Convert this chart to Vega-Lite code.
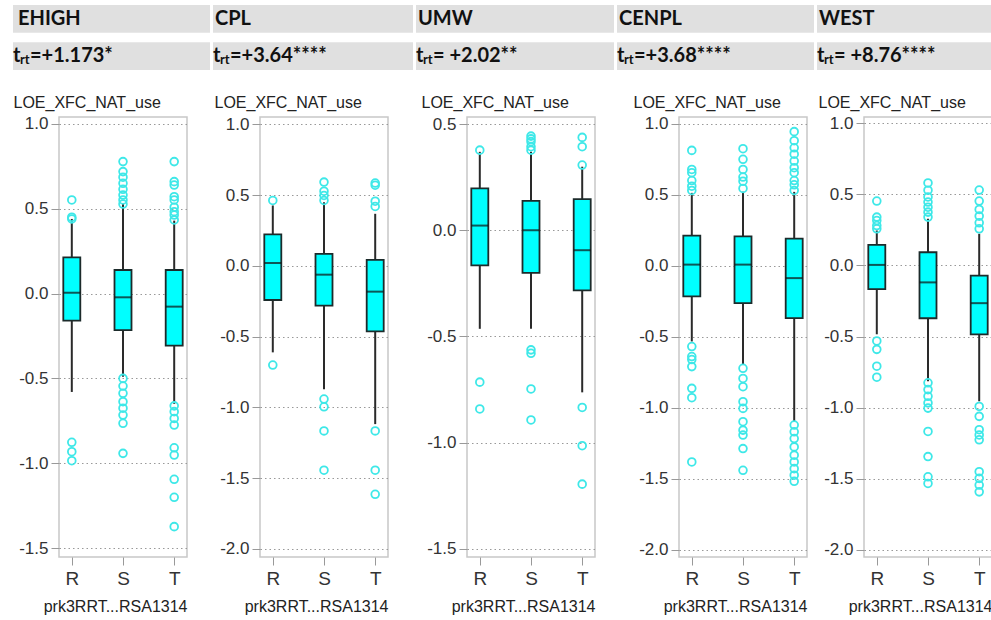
{
"$schema": "https://vega.github.io/schema/vega-lite/v6.json",
"padding": {"left": 12, "top": 5, "right": 0, "bottom": 0},
"autosize": {"type": "pad"},
"background": "white",
"datasets": {
"headers": [
{"panel":"EHIGH","row":"name","label":"EHIGH","t":"","sub":"","rest":""},
{"panel":"EHIGH","row":"t","label":"","t":"t","sub":"rt","rest":"=+1.173*"},
{"panel":"CPL","row":"name","label":"CPL","t":"","sub":"","rest":""},
{"panel":"CPL","row":"t","label":"","t":"t","sub":"rt","rest":"=+3.64****"},
{"panel":"UMW","row":"name","label":"UMW","t":"","sub":"","rest":""},
{"panel":"UMW","row":"t","label":"","t":"t","sub":"rt","rest":"= +2.02**"},
{"panel":"CENPL","row":"name","label":"CENPL","t":"","sub":"","rest":""},
{"panel":"CENPL","row":"t","label":"","t":"t","sub":"rt","rest":"=+3.68****"},
{"panel":"WEST","row":"name","label":"WEST","t":"","sub":"","rest":""},
{"panel":"WEST","row":"t","label":"","t":"t","sub":"rt","rest":"= +8.76****"}
],
"boxes": [
{"region":"EHIGH","grp":"R","lower":-0.58,"q1":-0.16,"median":0.005,"q3":0.214,"upper":0.44},
{"region":"EHIGH","grp":"S","lower":-0.49,"q1":-0.215,"median":-0.022,"q3":0.139,"upper":0.53},
{"region":"EHIGH","grp":"T","lower":-0.65,"q1":-0.307,"median":-0.077,"q3":0.139,"upper":0.43},
{"region":"CPL","grp":"R","lower":-0.611,"q1":-0.241,"median":0.021,"q3":0.222,"upper":0.427},
{"region":"CPL","grp":"S","lower":-0.871,"q1":-0.281,"median":-0.062,"q3":0.085,"upper":0.45},
{"region":"CPL","grp":"T","lower":-1.118,"q1":-0.463,"median":-0.182,"q3":0.042,"upper":0.368},
{"region":"UMW","grp":"R","lower":-0.464,"q1":-0.165,"median":0.022,"q3":0.197,"upper":0.369},
{"region":"UMW","grp":"S","lower":-0.464,"q1":-0.201,"median":0.0,"q3":0.138,"upper":0.369},
{"region":"UMW","grp":"T","lower":-0.763,"q1":-0.283,"median":-0.094,"q3":0.146,"upper":0.299},
{"region":"CENPL","grp":"R","lower":-0.533,"q1":-0.216,"median":0.008,"q3":0.212,"upper":0.513},
{"region":"CENPL","grp":"S","lower":-0.698,"q1":-0.263,"median":0.008,"q3":0.207,"upper":0.52},
{"region":"CENPL","grp":"T","lower":-1.098,"q1":-0.369,"median":-0.087,"q3":0.191,"upper":0.52},
{"region":"WEST","grp":"R","lower":-0.484,"q1":-0.166,"median":0.004,"q3":0.145,"upper":0.246},
{"region":"WEST","grp":"S","lower":-0.814,"q1":-0.371,"median":-0.119,"q3":0.093,"upper":0.328},
{"region":"WEST","grp":"T","lower":-0.955,"q1":-0.484,"median":-0.265,"q3":-0.072,"upper":0.223}
],
"outliers": [
{"region":"EHIGH","grp":"R","value":0.552},{"region":"EHIGH","grp":"R","value":0.45},{"region":"EHIGH","grp":"R","value":0.44},{"region":"EHIGH","grp":"R","value":-0.877},{"region":"EHIGH","grp":"R","value":-0.932},{"region":"EHIGH","grp":"R","value":-0.985},
{"region":"EHIGH","grp":"S","value":0.778},{"region":"EHIGH","grp":"S","value":0.719},{"region":"EHIGH","grp":"S","value":0.686},{"region":"EHIGH","grp":"S","value":0.65},{"region":"EHIGH","grp":"S","value":0.615},{"region":"EHIGH","grp":"S","value":0.581},{"region":"EHIGH","grp":"S","value":0.552},{"region":"EHIGH","grp":"S","value":0.528},{"region":"EHIGH","grp":"S","value":-0.5},{"region":"EHIGH","grp":"S","value":-0.545},{"region":"EHIGH","grp":"S","value":-0.588},{"region":"EHIGH","grp":"S","value":-0.637},{"region":"EHIGH","grp":"S","value":-0.676},{"region":"EHIGH","grp":"S","value":-0.716},{"region":"EHIGH","grp":"S","value":-0.765},{"region":"EHIGH","grp":"S","value":-0.942},
{"region":"EHIGH","grp":"T","value":0.778},{"region":"EHIGH","grp":"T","value":0.66},{"region":"EHIGH","grp":"T","value":0.64},{"region":"EHIGH","grp":"T","value":0.571},{"region":"EHIGH","grp":"T","value":0.552},{"region":"EHIGH","grp":"T","value":0.509},{"region":"EHIGH","grp":"T","value":0.483},{"region":"EHIGH","grp":"T","value":0.463},{"region":"EHIGH","grp":"T","value":0.434},{"region":"EHIGH","grp":"T","value":-0.662},{"region":"EHIGH","grp":"T","value":-0.696},{"region":"EHIGH","grp":"T","value":-0.736},{"region":"EHIGH","grp":"T","value":-0.775},{"region":"EHIGH","grp":"T","value":-0.909},{"region":"EHIGH","grp":"T","value":-0.952},{"region":"EHIGH","grp":"T","value":-1.095},{"region":"EHIGH","grp":"T","value":-1.201},{"region":"EHIGH","grp":"T","value":-1.374},
{"region":"CPL","grp":"R","value":0.462},{"region":"CPL","grp":"R","value":-0.701},
{"region":"CPL","grp":"S","value":0.592},{"region":"CPL","grp":"S","value":0.528},{"region":"CPL","grp":"S","value":0.498},{"region":"CPL","grp":"S","value":0.462},{"region":"CPL","grp":"S","value":-0.941},{"region":"CPL","grp":"S","value":-0.996},{"region":"CPL","grp":"S","value":-1.166},{"region":"CPL","grp":"S","value":-1.444},
{"region":"CPL","grp":"T","value":0.585},{"region":"CPL","grp":"T","value":0.57},{"region":"CPL","grp":"T","value":0.457},{"region":"CPL","grp":"T","value":0.42},{"region":"CPL","grp":"T","value":-1.166},{"region":"CPL","grp":"T","value":-1.444},{"region":"CPL","grp":"T","value":-1.614},
{"region":"UMW","grp":"R","value":0.377},{"region":"UMW","grp":"R","value":-0.715},{"region":"UMW","grp":"R","value":-0.841},
{"region":"UMW","grp":"S","value":0.443},{"region":"UMW","grp":"S","value":0.43},{"region":"UMW","grp":"S","value":0.417},{"region":"UMW","grp":"S","value":0.393},{"region":"UMW","grp":"S","value":0.377},{"region":"UMW","grp":"S","value":-0.563},{"region":"UMW","grp":"S","value":-0.579},{"region":"UMW","grp":"S","value":-0.747},{"region":"UMW","grp":"S","value":-0.893},
{"region":"UMW","grp":"T","value":0.437},{"region":"UMW","grp":"T","value":0.393},{"region":"UMW","grp":"T","value":0.307},{"region":"UMW","grp":"T","value":-0.834},{"region":"UMW","grp":"T","value":-1.014},{"region":"UMW","grp":"T","value":-1.195},
{"region":"CENPL","grp":"R","value":0.812},{"region":"CENPL","grp":"R","value":0.678},{"region":"CENPL","grp":"R","value":0.655},{"region":"CENPL","grp":"R","value":0.6},{"region":"CENPL","grp":"R","value":0.56},{"region":"CENPL","grp":"R","value":0.53},{"region":"CENPL","grp":"R","value":-0.569},{"region":"CENPL","grp":"R","value":-0.639},{"region":"CENPL","grp":"R","value":-0.66},{"region":"CENPL","grp":"R","value":-0.71},{"region":"CENPL","grp":"R","value":-0.863},{"region":"CENPL","grp":"R","value":-0.929},{"region":"CENPL","grp":"R","value":-1.381},
{"region":"CENPL","grp":"S","value":0.824},{"region":"CENPL","grp":"S","value":0.749},{"region":"CENPL","grp":"S","value":0.678},{"region":"CENPL","grp":"S","value":0.624},{"region":"CENPL","grp":"S","value":0.595},{"region":"CENPL","grp":"S","value":0.544},{"region":"CENPL","grp":"S","value":-0.722},{"region":"CENPL","grp":"S","value":-0.793},{"region":"CENPL","grp":"S","value":-0.851},{"region":"CENPL","grp":"S","value":-0.957},{"region":"CENPL","grp":"S","value":-1.004},{"region":"CENPL","grp":"S","value":-1.098},{"region":"CENPL","grp":"S","value":-1.157},{"region":"CENPL","grp":"S","value":-1.192},{"region":"CENPL","grp":"S","value":-1.287},{"region":"CENPL","grp":"S","value":-1.44},
{"region":"CENPL","grp":"T","value":0.944},{"region":"CENPL","grp":"T","value":0.88},{"region":"CENPL","grp":"T","value":0.83},{"region":"CENPL","grp":"T","value":0.785},{"region":"CENPL","grp":"T","value":0.737},{"region":"CENPL","grp":"T","value":0.69},{"region":"CENPL","grp":"T","value":0.655},{"region":"CENPL","grp":"T","value":0.6},{"region":"CENPL","grp":"T","value":0.57},{"region":"CENPL","grp":"T","value":0.53},{"region":"CENPL","grp":"T","value":-1.121},{"region":"CENPL","grp":"T","value":-1.169},{"region":"CENPL","grp":"T","value":-1.216},{"region":"CENPL","grp":"T","value":-1.275},{"region":"CENPL","grp":"T","value":-1.333},{"region":"CENPL","grp":"T","value":-1.381},{"region":"CENPL","grp":"T","value":-1.428},{"region":"CENPL","grp":"T","value":-1.474},{"region":"CENPL","grp":"T","value":-1.517},
{"region":"WEST","grp":"R","value":0.453},{"region":"WEST","grp":"R","value":0.34},{"region":"WEST","grp":"R","value":0.316},{"region":"WEST","grp":"R","value":0.281},{"region":"WEST","grp":"R","value":0.258},{"region":"WEST","grp":"R","value":-0.531},{"region":"WEST","grp":"R","value":-0.59},{"region":"WEST","grp":"R","value":-0.708},{"region":"WEST","grp":"R","value":-0.786},
{"region":"WEST","grp":"S","value":0.58},{"region":"WEST","grp":"S","value":0.529},{"region":"WEST","grp":"S","value":0.482},{"region":"WEST","grp":"S","value":0.446},{"region":"WEST","grp":"S","value":0.41},{"region":"WEST","grp":"S","value":0.375},{"region":"WEST","grp":"S","value":0.34},{"region":"WEST","grp":"S","value":-0.825},{"region":"WEST","grp":"S","value":-0.873},{"region":"WEST","grp":"S","value":-0.92},{"region":"WEST","grp":"S","value":-0.967},{"region":"WEST","grp":"S","value":-1.003},{"region":"WEST","grp":"S","value":-1.167},{"region":"WEST","grp":"S","value":-1.344},{"region":"WEST","grp":"S","value":-1.486},{"region":"WEST","grp":"S","value":-1.533},
{"region":"WEST","grp":"T","value":0.53},{"region":"WEST","grp":"T","value":0.453},{"region":"WEST","grp":"T","value":0.394},{"region":"WEST","grp":"T","value":0.347},{"region":"WEST","grp":"T","value":0.3},{"region":"WEST","grp":"T","value":0.258},{"region":"WEST","grp":"T","value":-0.991},{"region":"WEST","grp":"T","value":-1.061},{"region":"WEST","grp":"T","value":-1.155},{"region":"WEST","grp":"T","value":-1.192},{"region":"WEST","grp":"T","value":-1.226},{"region":"WEST","grp":"T","value":-1.45},{"region":"WEST","grp":"T","value":-1.497},{"region":"WEST","grp":"T","value":-1.544},{"region":"WEST","grp":"T","value":-1.592}
]
},
"vconcat": [
{
"hconcat": [
{"width": 151, "height": 65, "view": {"stroke": null}, "data": {"name": "headers"}, "transform": [{"filter": "datum.panel == 'EHIGH'"}],
 "encoding": {"x": {"field": "panel", "type": "nominal", "axis": null, "scale": {"paddingInner": 0, "paddingOuter": 0, "range": [-46, 151]}}, "y": {"field": "row", "type": "nominal", "axis": null, "scale": {"domain": ["name", "t"], "paddingInner": 0.26, "paddingOuter": 0}}},
 "layer": [
  {"mark": {"type": "rect", "color": "#e0e0e0"}},
  {"mark": {"type": "text", "align": "left", "baseline": "middle", "dx": 5, "font": "Lato", "fontWeight": "bold", "fontSize": 20, "color": "#111"}, "encoding": {"x": {"field": "panel", "type": "nominal", "bandPosition": 0, "axis": null}, "text": {"field": "label"}}},
  {"mark": {"type": "text", "align": "left", "baseline": "middle", "dx": 0, "font": "Lato", "fontWeight": "bold", "fontSize": 20, "color": "#111"}, "encoding": {"x": {"field": "panel", "type": "nominal", "bandPosition": 0, "axis": null}, "text": {"field": "t"}}},
  {"mark": {"type": "text", "align": "left", "baseline": "middle", "dx": 7, "dy": 4, "font": "Lato", "fontWeight": "bold", "fontSize": 13, "color": "#111"}, "encoding": {"x": {"field": "panel", "type": "nominal", "bandPosition": 0, "axis": null}, "text": {"field": "sub"}}},
  {"mark": {"type": "text", "align": "left", "baseline": "middle", "dx": 17, "font": "Lato", "fontWeight": "bold", "fontSize": 20, "color": "#111"}, "encoding": {"x": {"field": "panel", "type": "nominal", "bandPosition": 0, "axis": null}, "text": {"field": "rest"}}}
 ]},
{"width": 200, "height": 65, "view": {"stroke": null}, "data": {"name": "headers"}, "transform": [{"filter": "datum.panel == 'CPL'"}],
 "encoding": {"x": {"field": "panel", "type": "nominal", "axis": null, "scale": {"paddingInner": 0, "paddingOuter": 0}}, "y": {"field": "row", "type": "nominal", "axis": null, "scale": {"domain": ["name", "t"], "paddingInner": 0.26, "paddingOuter": 0}}},
 "layer": [
  {"mark": {"type": "rect", "color": "#e0e0e0"}},
  {"mark": {"type": "text", "align": "left", "baseline": "middle", "dx": 2, "font": "Lato", "fontWeight": "bold", "fontSize": 20, "color": "#111"}, "encoding": {"x": {"field": "panel", "type": "nominal", "bandPosition": 0, "axis": null}, "text": {"field": "label"}}},
  {"mark": {"type": "text", "align": "left", "baseline": "middle", "dx": 0, "font": "Lato", "fontWeight": "bold", "fontSize": 20, "color": "#111"}, "encoding": {"x": {"field": "panel", "type": "nominal", "bandPosition": 0, "axis": null}, "text": {"field": "t"}}},
  {"mark": {"type": "text", "align": "left", "baseline": "middle", "dx": 7, "dy": 4, "font": "Lato", "fontWeight": "bold", "fontSize": 13, "color": "#111"}, "encoding": {"x": {"field": "panel", "type": "nominal", "bandPosition": 0, "axis": null}, "text": {"field": "sub"}}},
  {"mark": {"type": "text", "align": "left", "baseline": "middle", "dx": 17, "font": "Lato", "fontWeight": "bold", "fontSize": 20, "color": "#111"}, "encoding": {"x": {"field": "panel", "type": "nominal", "bandPosition": 0, "axis": null}, "text": {"field": "rest"}}}
 ]},
{"width": 198, "height": 65, "view": {"stroke": null}, "data": {"name": "headers"}, "transform": [{"filter": "datum.panel == 'UMW'"}],
 "encoding": {"x": {"field": "panel", "type": "nominal", "axis": null, "scale": {"paddingInner": 0, "paddingOuter": 0}}, "y": {"field": "row", "type": "nominal", "axis": null, "scale": {"domain": ["name", "t"], "paddingInner": 0.26, "paddingOuter": 0}}},
 "layer": [
  {"mark": {"type": "rect", "color": "#e0e0e0"}},
  {"mark": {"type": "text", "align": "left", "baseline": "middle", "dx": 2, "font": "Lato", "fontWeight": "bold", "fontSize": 20, "color": "#111"}, "encoding": {"x": {"field": "panel", "type": "nominal", "bandPosition": 0, "axis": null}, "text": {"field": "label"}}},
  {"mark": {"type": "text", "align": "left", "baseline": "middle", "dx": 0, "font": "Lato", "fontWeight": "bold", "fontSize": 20, "color": "#111"}, "encoding": {"x": {"field": "panel", "type": "nominal", "bandPosition": 0, "axis": null}, "text": {"field": "t"}}},
  {"mark": {"type": "text", "align": "left", "baseline": "middle", "dx": 7, "dy": 4, "font": "Lato", "fontWeight": "bold", "fontSize": 13, "color": "#111"}, "encoding": {"x": {"field": "panel", "type": "nominal", "bandPosition": 0, "axis": null}, "text": {"field": "sub"}}},
  {"mark": {"type": "text", "align": "left", "baseline": "middle", "dx": 17, "font": "Lato", "fontWeight": "bold", "fontSize": 20, "color": "#111"}, "encoding": {"x": {"field": "panel", "type": "nominal", "bandPosition": 0, "axis": null}, "text": {"field": "rest"}}}
 ]},
{"width": 197, "height": 65, "view": {"stroke": null}, "data": {"name": "headers"}, "transform": [{"filter": "datum.panel == 'CENPL'"}],
 "encoding": {"x": {"field": "panel", "type": "nominal", "axis": null, "scale": {"paddingInner": 0, "paddingOuter": 0}}, "y": {"field": "row", "type": "nominal", "axis": null, "scale": {"domain": ["name", "t"], "paddingInner": 0.26, "paddingOuter": 0}}},
 "layer": [
  {"mark": {"type": "rect", "color": "#e0e0e0"}},
  {"mark": {"type": "text", "align": "left", "baseline": "middle", "dx": 2, "font": "Lato", "fontWeight": "bold", "fontSize": 20, "color": "#111"}, "encoding": {"x": {"field": "panel", "type": "nominal", "bandPosition": 0, "axis": null}, "text": {"field": "label"}}},
  {"mark": {"type": "text", "align": "left", "baseline": "middle", "dx": 0, "font": "Lato", "fontWeight": "bold", "fontSize": 20, "color": "#111"}, "encoding": {"x": {"field": "panel", "type": "nominal", "bandPosition": 0, "axis": null}, "text": {"field": "t"}}},
  {"mark": {"type": "text", "align": "left", "baseline": "middle", "dx": 7, "dy": 4, "font": "Lato", "fontWeight": "bold", "fontSize": 13, "color": "#111"}, "encoding": {"x": {"field": "panel", "type": "nominal", "bandPosition": 0, "axis": null}, "text": {"field": "sub"}}},
  {"mark": {"type": "text", "align": "left", "baseline": "middle", "dx": 17, "font": "Lato", "fontWeight": "bold", "fontSize": 20, "color": "#111"}, "encoding": {"x": {"field": "panel", "type": "nominal", "bandPosition": 0, "axis": null}, "text": {"field": "rest"}}}
 ]},
{"width": 175, "height": 65, "view": {"stroke": null}, "data": {"name": "headers"}, "transform": [{"filter": "datum.panel == 'WEST'"}],
 "encoding": {"x": {"field": "panel", "type": "nominal", "axis": null, "scale": {"paddingInner": 0, "paddingOuter": 0}}, "y": {"field": "row", "type": "nominal", "axis": null, "scale": {"domain": ["name", "t"], "paddingInner": 0.26, "paddingOuter": 0}}},
 "layer": [
  {"mark": {"type": "rect", "color": "#e0e0e0"}},
  {"mark": {"type": "text", "align": "left", "baseline": "middle", "dx": 2, "font": "Lato", "fontWeight": "bold", "fontSize": 20, "color": "#111"}, "encoding": {"x": {"field": "panel", "type": "nominal", "bandPosition": 0, "axis": null}, "text": {"field": "label"}}},
  {"mark": {"type": "text", "align": "left", "baseline": "middle", "dx": 0, "font": "Lato", "fontWeight": "bold", "fontSize": 20, "color": "#111"}, "encoding": {"x": {"field": "panel", "type": "nominal", "bandPosition": 0, "axis": null}, "text": {"field": "t"}}},
  {"mark": {"type": "text", "align": "left", "baseline": "middle", "dx": 7, "dy": 4, "font": "Lato", "fontWeight": "bold", "fontSize": 13, "color": "#111"}, "encoding": {"x": {"field": "panel", "type": "nominal", "bandPosition": 0, "axis": null}, "text": {"field": "sub"}}},
  {"mark": {"type": "text", "align": "left", "baseline": "middle", "dx": 17, "font": "Lato", "fontWeight": "bold", "fontSize": 20, "color": "#111"}, "encoding": {"x": {"field": "panel", "type": "nominal", "bandPosition": 0, "axis": null}, "text": {"field": "rest"}}}
 ]}
],
"spacing": 3
},
{
"hconcat": [
 {"hconcat": [
  {"hconcat": [
   {"hconcat": [
    {"width": 128, "height": 440, "layer": [
     {"data": {"name": "boxes"}, "transform": [{"filter": "datum.region == 'EHIGH'"}], "mark": {"type": "rule", "color": "#2a2a2a", "strokeWidth": 2},
      "encoding": {"x": {"field": "grp", "type": "nominal", "title": "prk3RRT...RSA1314", "scale": {"type": "point", "padding": 0.25, "domain": ["R","S","T"]}},
       "y": {"field": "lower", "type": "quantitative", "title": "LOE_XFC_NAT_use", "scale": {"domain": [-1.553, 1.041], "nice": false, "zero": false}, "axis": {"title": "LOE_XFC_NAT_use", "values": [-1.5,-1,-0.5,0,0.5,1], "labelExpr": "replace(format(datum.value, '.1f'), '\u2212', '-')"}},
       "y2": {"field": "upper"}}},
     {"data": {"name": "boxes"}, "transform": [{"filter": "datum.region == 'EHIGH'"}], "mark": {"type": "bar", "size": 17, "fill": "#00ffff", "stroke": "#1c2b2b", "strokeWidth": 1.8},
      "encoding": {"x": {"field": "grp", "type": "nominal", "title": "prk3RRT...RSA1314", "scale": {"type": "point", "padding": 0.25, "domain": ["R","S","T"]}},
       "y": {"field": "q1", "type": "quantitative", "title": "LOE_XFC_NAT_use", "scale": {"domain": [-1.553, 1.041], "nice": false, "zero": false}},
       "y2": {"field": "q3"}}},
     {"data": {"name": "boxes"}, "transform": [{"filter": "datum.region == 'EHIGH'"}], "mark": {"type": "tick", "size": 17, "thickness": 2, "color": "#111"},
      "encoding": {"x": {"field": "grp", "type": "nominal", "title": "prk3RRT...RSA1314", "scale": {"type": "point", "padding": 0.25, "domain": ["R","S","T"]}},
       "y": {"field": "median", "type": "quantitative", "title": "LOE_XFC_NAT_use", "scale": {"domain": [-1.553, 1.041], "nice": false, "zero": false}}}},
     {"data": {"name": "outliers"}, "transform": [{"filter": "datum.region == 'EHIGH'"}], "mark": {"type": "point", "shape": "circle", "filled": false, "size": 60, "strokeWidth": 1.8, "color": "#3ee8e8", "opacity": 1},
      "encoding": {"x": {"field": "grp", "type": "nominal", "title": "prk3RRT...RSA1314", "scale": {"type": "point", "padding": 0.25, "domain": ["R","S","T"]}},
       "y": {"field": "value", "type": "quantitative", "title": "LOE_XFC_NAT_use", "scale": {"domain": [-1.553, 1.041], "nice": false, "zero": false}}}}
    ]},
    {"width": 128, "height": 440, "layer": [
     {"data": {"name": "boxes"}, "transform": [{"filter": "datum.region == 'CPL'"}], "mark": {"type": "rule", "color": "#2a2a2a", "strokeWidth": 2},
      "encoding": {"x": {"field": "grp", "type": "nominal", "title": "prk3RRT...RSA1314", "scale": {"type": "point", "padding": 0.25, "domain": ["R","S","T"]}},
       "y": {"field": "lower", "type": "quantitative", "title": "LOE_XFC_NAT_use", "scale": {"domain": [-2.057, 1.052], "nice": false, "zero": false}, "axis": {"title": "LOE_XFC_NAT_use", "values": [-2,-1.5,-1,-0.5,0,0.5,1], "labelExpr": "replace(format(datum.value, '.1f'), '\u2212', '-')"}},
       "y2": {"field": "upper"}}},
     {"data": {"name": "boxes"}, "transform": [{"filter": "datum.region == 'CPL'"}], "mark": {"type": "bar", "size": 17, "fill": "#00ffff", "stroke": "#1c2b2b", "strokeWidth": 1.8},
      "encoding": {"x": {"field": "grp", "type": "nominal", "title": "prk3RRT...RSA1314", "scale": {"type": "point", "padding": 0.25, "domain": ["R","S","T"]}},
       "y": {"field": "q1", "type": "quantitative", "title": "LOE_XFC_NAT_use", "scale": {"domain": [-2.057, 1.052], "nice": false, "zero": false}},
       "y2": {"field": "q3"}}},
     {"data": {"name": "boxes"}, "transform": [{"filter": "datum.region == 'CPL'"}], "mark": {"type": "tick", "size": 17, "thickness": 2, "color": "#111"},
      "encoding": {"x": {"field": "grp", "type": "nominal", "title": "prk3RRT...RSA1314", "scale": {"type": "point", "padding": 0.25, "domain": ["R","S","T"]}},
       "y": {"field": "median", "type": "quantitative", "title": "LOE_XFC_NAT_use", "scale": {"domain": [-2.057, 1.052], "nice": false, "zero": false}}}},
     {"data": {"name": "outliers"}, "transform": [{"filter": "datum.region == 'CPL'"}], "mark": {"type": "point", "shape": "circle", "filled": false, "size": 60, "strokeWidth": 1.8, "color": "#3ee8e8", "opacity": 1},
      "encoding": {"x": {"field": "grp", "type": "nominal", "title": "prk3RRT...RSA1314", "scale": {"type": "point", "padding": 0.25, "domain": ["R","S","T"]}},
       "y": {"field": "value", "type": "quantitative", "title": "LOE_XFC_NAT_use", "scale": {"domain": [-2.057, 1.052], "nice": false, "zero": false}}}}
    ]}
   ], "spacing": 25},
   {"width": 128, "height": 440, "layer": [
    {"data": {"name": "boxes"}, "transform": [{"filter": "datum.region == 'UMW'"}], "mark": {"type": "rule", "color": "#2a2a2a", "strokeWidth": 2},
     "encoding": {"x": {"field": "grp", "type": "nominal", "title": "prk3RRT...RSA1314", "scale": {"type": "point", "padding": 0.25, "domain": ["R","S","T"]}},
      "y": {"field": "lower", "type": "quantitative", "title": "LOE_XFC_NAT_use", "scale": {"domain": [-1.538, 0.533], "nice": false, "zero": false}, "axis": {"title": "LOE_XFC_NAT_use", "values": [-1.5,-1,-0.5,0,0.5], "labelExpr": "replace(format(datum.value, '.1f'), '\u2212', '-')"}},
      "y2": {"field": "upper"}}},
    {"data": {"name": "boxes"}, "transform": [{"filter": "datum.region == 'UMW'"}], "mark": {"type": "bar", "size": 17, "fill": "#00ffff", "stroke": "#1c2b2b", "strokeWidth": 1.8},
     "encoding": {"x": {"field": "grp", "type": "nominal", "title": "prk3RRT...RSA1314", "scale": {"type": "point", "padding": 0.25, "domain": ["R","S","T"]}},
      "y": {"field": "q1", "type": "quantitative", "title": "LOE_XFC_NAT_use", "scale": {"domain": [-1.538, 0.533], "nice": false, "zero": false}},
      "y2": {"field": "q3"}}},
    {"data": {"name": "boxes"}, "transform": [{"filter": "datum.region == 'UMW'"}], "mark": {"type": "tick", "size": 17, "thickness": 2, "color": "#111"},
     "encoding": {"x": {"field": "grp", "type": "nominal", "title": "prk3RRT...RSA1314", "scale": {"type": "point", "padding": 0.25, "domain": ["R","S","T"]}},
      "y": {"field": "median", "type": "quantitative", "title": "LOE_XFC_NAT_use", "scale": {"domain": [-1.538, 0.533], "nice": false, "zero": false}}}},
    {"data": {"name": "outliers"}, "transform": [{"filter": "datum.region == 'UMW'"}], "mark": {"type": "point", "shape": "circle", "filled": false, "size": 60, "strokeWidth": 1.8, "color": "#3ee8e8", "opacity": 1},
     "encoding": {"x": {"field": "grp", "type": "nominal", "title": "prk3RRT...RSA1314", "scale": {"type": "point", "padding": 0.25, "domain": ["R","S","T"]}},
      "y": {"field": "value", "type": "quantitative", "title": "LOE_XFC_NAT_use", "scale": {"domain": [-1.538, 0.533], "nice": false, "zero": false}}}}
   ]}
  ], "spacing": 31},
  {"width": 128, "height": 440, "layer": [
   {"data": {"name": "boxes"}, "transform": [{"filter": "datum.region == 'CENPL'"}], "mark": {"type": "rule", "color": "#2a2a2a", "strokeWidth": 2},
    "encoding": {"x": {"field": "grp", "type": "nominal", "title": "prk3RRT...RSA1314", "scale": {"type": "point", "padding": 0.25, "domain": ["R","S","T"]}},
     "y": {"field": "lower", "type": "quantitative", "title": "LOE_XFC_NAT_use", "scale": {"domain": [-2.05, 1.047], "nice": false, "zero": false}, "axis": {"title": "LOE_XFC_NAT_use", "values": [-2,-1.5,-1,-0.5,0,0.5,1], "labelExpr": "replace(format(datum.value, '.1f'), '\u2212', '-')"}},
     "y2": {"field": "upper"}}},
   {"data": {"name": "boxes"}, "transform": [{"filter": "datum.region == 'CENPL'"}], "mark": {"type": "bar", "size": 17, "fill": "#00ffff", "stroke": "#1c2b2b", "strokeWidth": 1.8},
    "encoding": {"x": {"field": "grp", "type": "nominal", "title": "prk3RRT...RSA1314", "scale": {"type": "point", "padding": 0.25, "domain": ["R","S","T"]}},
     "y": {"field": "q1", "type": "quantitative", "title": "LOE_XFC_NAT_use", "scale": {"domain": [-2.05, 1.047], "nice": false, "zero": false}},
     "y2": {"field": "q3"}}},
   {"data": {"name": "boxes"}, "transform": [{"filter": "datum.region == 'CENPL'"}], "mark": {"type": "tick", "size": 17, "thickness": 2, "color": "#111"},
    "encoding": {"x": {"field": "grp", "type": "nominal", "title": "prk3RRT...RSA1314", "scale": {"type": "point", "padding": 0.25, "domain": ["R","S","T"]}},
     "y": {"field": "median", "type": "quantitative", "title": "LOE_XFC_NAT_use", "scale": {"domain": [-2.05, 1.047], "nice": false, "zero": false}}}},
   {"data": {"name": "outliers"}, "transform": [{"filter": "datum.region == 'CENPL'"}], "mark": {"type": "point", "shape": "circle", "filled": false, "size": 60, "strokeWidth": 1.8, "color": "#3ee8e8", "opacity": 1},
    "encoding": {"x": {"field": "grp", "type": "nominal", "title": "prk3RRT...RSA1314", "scale": {"type": "point", "padding": 0.25, "domain": ["R","S","T"]}},
     "y": {"field": "value", "type": "quantitative", "title": "LOE_XFC_NAT_use", "scale": {"domain": [-2.05, 1.047], "nice": false, "zero": false}}}}
  ]}
 ], "spacing": 36},
 {"width": 128, "height": 440, "layer": [
  {"data": {"name": "boxes"}, "transform": [{"filter": "datum.region == 'WEST'"}], "mark": {"type": "rule", "color": "#2a2a2a", "strokeWidth": 2},
   "encoding": {"x": {"field": "grp", "type": "nominal", "title": "prk3RRT...RSA1314", "scale": {"type": "point", "padding": 0.25, "domain": ["R","S","T"]}},
    "y": {"field": "lower", "type": "quantitative", "title": "LOE_XFC_NAT_use", "scale": {"domain": [-2.05, 1.044], "nice": false, "zero": false}, "axis": {"title": "LOE_XFC_NAT_use", "values": [-2,-1.5,-1,-0.5,0,0.5,1], "labelExpr": "replace(format(datum.value, '.1f'), '\u2212', '-')"}},
    "y2": {"field": "upper"}}},
  {"data": {"name": "boxes"}, "transform": [{"filter": "datum.region == 'WEST'"}], "mark": {"type": "bar", "size": 17, "fill": "#00ffff", "stroke": "#1c2b2b", "strokeWidth": 1.8},
   "encoding": {"x": {"field": "grp", "type": "nominal", "title": "prk3RRT...RSA1314", "scale": {"type": "point", "padding": 0.25, "domain": ["R","S","T"]}},
    "y": {"field": "q1", "type": "quantitative", "title": "LOE_XFC_NAT_use", "scale": {"domain": [-2.05, 1.044], "nice": false, "zero": false}},
    "y2": {"field": "q3"}}},
  {"data": {"name": "boxes"}, "transform": [{"filter": "datum.region == 'WEST'"}], "mark": {"type": "tick", "size": 17, "thickness": 2, "color": "#111"},
   "encoding": {"x": {"field": "grp", "type": "nominal", "title": "prk3RRT...RSA1314", "scale": {"type": "point", "padding": 0.25, "domain": ["R","S","T"]}},
    "y": {"field": "median", "type": "quantitative", "title": "LOE_XFC_NAT_use", "scale": {"domain": [-2.05, 1.044], "nice": false, "zero": false}}}},
  {"data": {"name": "outliers"}, "transform": [{"filter": "datum.region == 'WEST'"}], "mark": {"type": "point", "shape": "circle", "filled": false, "size": 60, "strokeWidth": 1.8, "color": "#3ee8e8", "opacity": 1},
   "encoding": {"x": {"field": "grp", "type": "nominal", "title": "prk3RRT...RSA1314", "scale": {"type": "point", "padding": 0.25, "domain": ["R","S","T"]}},
    "y": {"field": "value", "type": "quantitative", "title": "LOE_XFC_NAT_use", "scale": {"domain": [-2.05, 1.044], "nice": false, "zero": false}}}}
 ]}
], "spacing": 9
}
],
"spacing": 23,
"config": {
 "view": {"stroke": "#c8c8c8", "strokeWidth": 1.5},
 "font": "Liberation Sans",
 "axis": {"labelFont": "Liberation Sans", "titleFont": "Liberation Sans", "labelColor": "#333", "titleColor": "#222", "tickColor": "#999", "domain": false, "labelFontSize": 17, "titleFontSize": 16, "titleFontWeight": "normal"},
 "axisY": {"grid": true, "gridColor": "#999", "gridDash": [1.5, 3], "tickSize": 8, "labelPadding": 3, "titleAngle": 0, "titleAlign": "left", "titleBaseline": "alphabetic", "titleX": -46, "titleY": -10},
 "axisX": {"grid": false, "tickSize": 8, "labelFontSize": 19, "labelAngle": 0, "labelPadding": 4, "titleAnchor": "end", "titlePadding": 10}
}
}
